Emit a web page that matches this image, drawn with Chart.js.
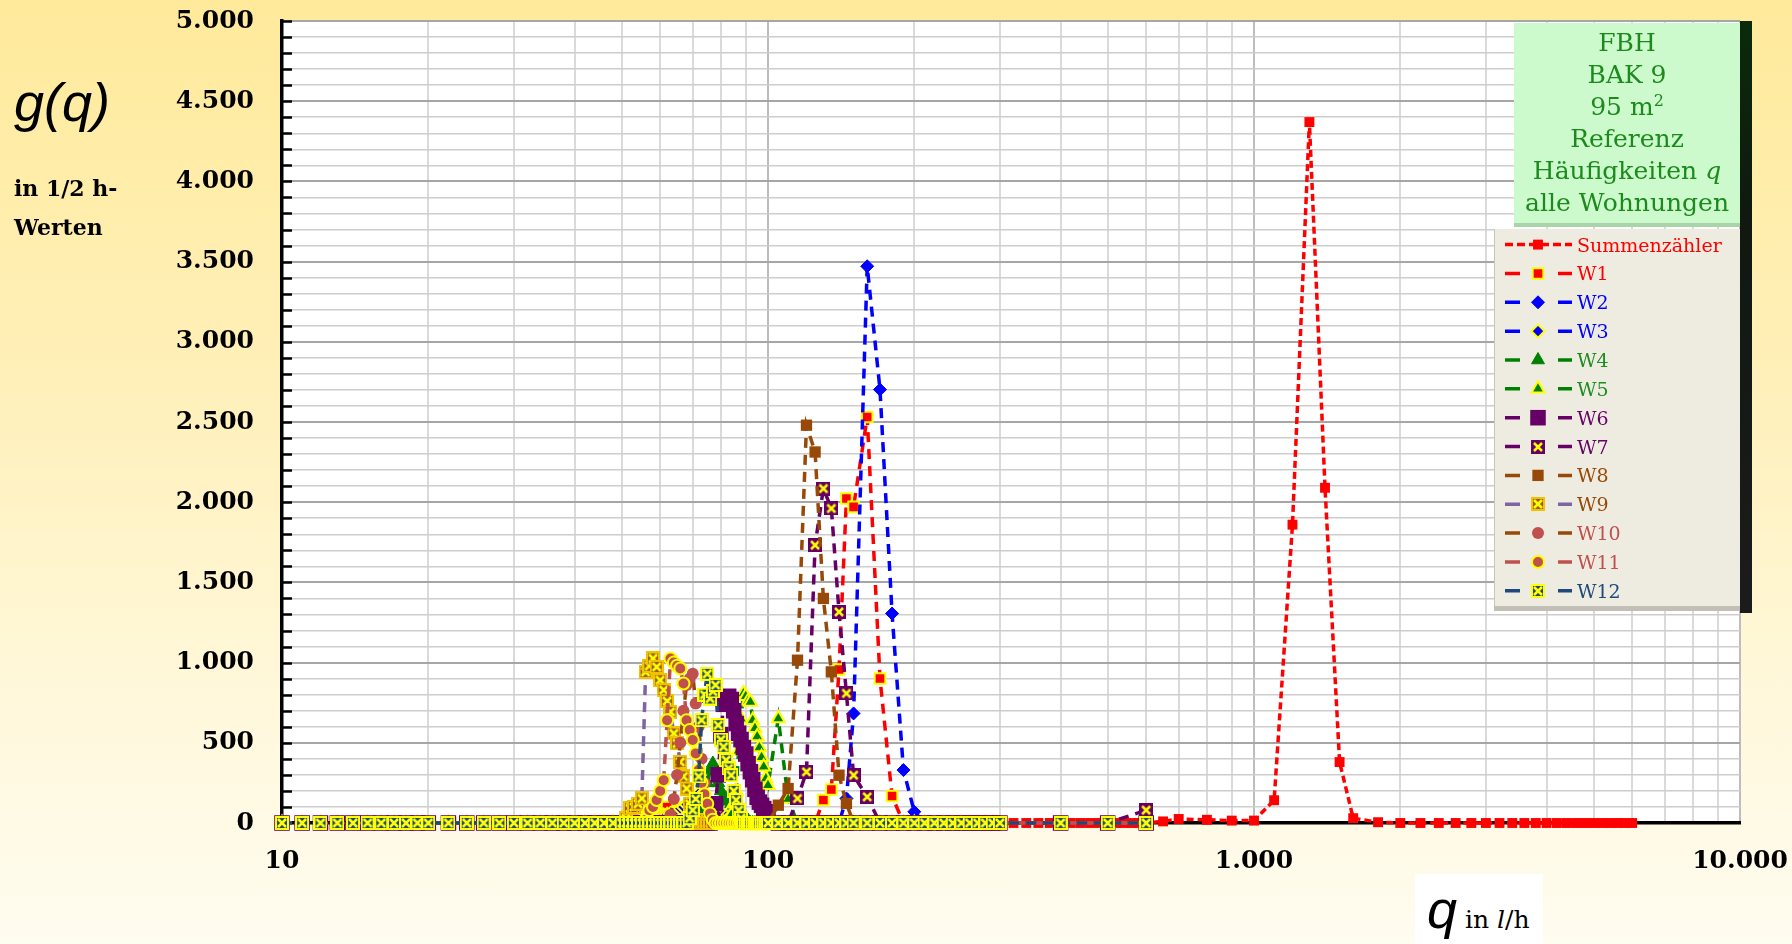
<!DOCTYPE html>
<html lang="de">
<head>
<meta charset="utf-8">
<title>g(q) – Häufigkeiten q, alle Wohnungen</title>
<script src="https://cdn.jsdelivr.net/npm/chart.js@4.4.1/dist/chart.umd.min.js"></script>
<style>
  html, body { margin: 0; padding: 0; }
  #wrap { position: relative; width: 1792px; height: 944px; overflow: hidden;
    background: linear-gradient(180deg, #FFEA9B 0%, #FFF0B9 40%, #FFF8DC 75%, #FFFCF0 100%); }
  #chart { position: absolute; left: 0; top: 0; }
  .t { position: absolute; white-space: nowrap; color: #000; }
  #ytitle { left: 14px; top: 75px; font: italic 54px/54px 'Liberation Sans', Arial, sans-serif; }
  .ysub { left: 14px; font: bold 22px/22px 'DejaVu Serif', serif; }
  #xbox { position: absolute; left: 1415px; top: 874px; width: 128px; height: 70px; background: #fff; }
  #xtitle { left: 1427px; top: 882px; font: italic 54px/54px 'Liberation Sans', Arial, sans-serif; }
  #xtitle span { font: 25px 'DejaVu Serif', serif; }
  #xtitle span i { font-style: italic; }
  #shadow { position: absolute; left: 1740px; top: 21px; width: 12px; height: 592px;
    background: linear-gradient(180deg, #0A2A0A 0%, #101810 35%, #1B1B1B 100%); }
  #titlebox { position: absolute; left: 1514px; top: 23px; width: 226px; height: 200px;
    background: #CCFACC; color: #1C8A1C; font: 25px/32px 'DejaVu Serif', serif; text-align: center;
    padding-top: 4px; box-sizing: border-box; box-shadow: 0 4px 0 #A9D3A9; }
  #titlebox sup { font-size: 16px; line-height: 0; vertical-align: 9px; }
  #legend { position: absolute; left: 1494px; top: 229px; width: 246px; height: 377px; background: #EEECE1;
    border-left: 1px solid #C8C6BC; box-sizing: border-box; box-shadow: 0 5px 0 #C2C0B6; }
  #legendMarks { position: absolute; left: 1494px; top: 229px; }
  .lt { position: absolute; left: 1577px; height: 28px; font: 19px/28px 'DejaVu Serif', serif; white-space: nowrap; }
</style>
</head>
<body>
<div id="wrap">
  <canvas id="chart" width="1792" height="944"></canvas>
  <div class="t" id="ytitle">g(q)</div>
  <div class="t ysub" style="top:177px">in 1/2 h-</div>
  <div class="t ysub" style="top:216px">Werten</div>
  <div id="xbox"></div>
  <div class="t" id="xtitle">q<span> in <i>l</i>/h</span></div>
  <div id="shadow"></div>
  <div id="titlebox">
    <div>FBH</div>
    <div>BAK 9</div>
    <div>95 m<sup>2</sup></div>
    <div>Referenz</div>
    <div>Häufigkeiten <i>q</i></div>
    <div>alle Wohnungen</div>
  </div>
  <div id="legend"></div>
  <canvas id="legendMarks" width="84" height="377"></canvas>
</div>
<script>
// ── Data ───────────────────────────────────────────────
const seriesNames = ['Summenzähler', 'W1', 'W2', 'W3', 'W4', 'W5', 'W6', 'W7', 'W8', 'W9', 'W10', 'W11', 'W12'];

// q bins of the flats (l/h)
const qW = [
  10, 11, 12, 13, 14, 15, 16, 17, 18, 19, 20, 22, 24, 26, 28, 30, 32, 34, 36, 38, 40, 42, 44, 46, 48,
  50, 51, 52, 53, 54, 55, 56, 57, 58, 59,
  60, 61, 62, 63, 64, 65, 66, 67, 68, 69,
  70, 71, 72, 73, 74, 75, 76, 77, 78, 79,
  80, 81, 82, 83, 84, 85, 86, 87, 88, 89,
  90, 91, 92, 93, 94, 95, 96, 97, 98, 99,
  100,
  105, 110, 115, 120, 125, 130, 135, 140, 145, 150,
  160, 170, 180, 190, 200, 210, 220, 230, 240, 250, 260, 270, 280, 290, 300,
  400, 500, 600
];

// q bins of the main meter (l/h)
const qSum = [
  300, 320, 340, 360, 380, 400, 420, 440, 460, 480, 500, 520, 540, 560, 580, 600,
  650, 700,
  800, 900, 1000, 1100, 1200, 1300, 1400, 1500, 1600,
  1800, 2000, 2200, 2400, 2600, 2800, 3000, 3200, 3400, 3600, 3800, 4000, 4200, 4400, 4600, 4800,
  5000, 5200, 5400, 5600, 5800, 6000
];

const sumVals = [
  0, 0, 0, 0, 0, 0, 0, 0, 0, 0, 0, 0, 0, 0, 0, 0,
  10, 25,
  20, 15, 15, 142, 1860, 4370, 2090, 380, 30,
  5, 0, 0, 0, 0, 0, 0, 0, 0, 0, 0, 0, 0, 0, 0, 0,
  0, 0, 0, 0, 0, 0
];

// rows: 10–48 | 50–59 | 60–69 | 70–79 | 80–89 | 90–99 | 100 | 105–150 | 160–300 | 400–600
const w1 = [
  0, 0, 0, 0, 0,  0, 0, 0, 0, 0,  0, 0, 0, 0, 0,  0, 0, 0, 0, 0,  0, 0, 0, 0, 0,
  0, 20, 40, 20, 0, 0, 0, 0, 0, 0,
  30, 60, 100, 40, 0, 0, 0, 0, 0, 0,
  0, 0, 0, 0, 0, 0, 0, 0, 0, 0,
  0, 0, 0, 0, 0, 0, 0, 0, 0, 0,
  0, 0, 0, 0, 0, 0, 0, 0, 0, 0,
  0,
  0, 0, 0, 0, 0, 143, 209, 957, 2023, 1971,
  2531, 901, 168, 0, 0, 0, 0, 0, 0, 0, 0, 0, 0, 0, 0,
  0, 0, 0
];
const w2 = [
  0, 0, 0, 0, 0,  0, 0, 0, 0, 0,  0, 0, 0, 0, 0,  0, 0, 0, 0, 0,  0, 0, 0, 0, 0,
  0, 0, 0, 0, 0, 0, 0, 0, 0, 0,
  0, 0, 0, 0, 0, 0, 0, 0, 0, 0,
  0, 0, 0, 0, 0, 0, 0, 0, 0, 0,
  0, 0, 0, 0, 0, 0, 0, 0, 0, 0,
  0, 0, 0, 0, 0, 0, 0, 0, 0, 0,
  0,
  0, 0, 0, 0, 0, 0, 0, 0, 153, 683,
  3471, 2702, 1306, 330, 70, 0, 0, 0, 0, 0, 0, 0, 0, 0, 0,
  0, 0, 0
];
const w3 = [
  0, 0, 0, 0, 0,  0, 0, 0, 0, 0,  0, 0, 0, 0, 0,  0, 0, 0, 0, 0,  0, 5, 5, 10, 10,
  15, 15, 20, 20, 25, 25, 30, 30, 35, 40,
  45, 50, 55, 60, 70, 80, 90, 100, 115, 130,
  150, 165, 185, 175, 160, 140, 120, 105, 90, 75,
  60, 50, 40, 30, 20, 15, 10, 5, 0, 0,
  0, 0, 0, 0, 0, 0, 0, 0, 0, 0,
  0,
  0, 0, 0, 0, 0, 0, 0, 0, 0, 0,
  0, 0, 0, 0, 0, 0, 0, 0, 0, 0, 0, 0, 0, 0, 0,
  0, 0, 0
];
const w4 = [
  0, 0, 0, 0, 0,  0, 0, 0, 0, 0,  0, 0, 0, 0, 0,  0, 0, 0, 0, 0,  0, 0, 0, 0, 0,
  0, 0, 0, 0, 0, 0, 0, 0, 0, 0,
  0, 0, 0, 0, 0, 0, 0, 0, 0, 0,
  0, 0, 0, 40, 100, 250, 330, 371, 330, 250,
  200, 170, 150, 135, 120, 110, 100, 80, 60, 45,
  30, 15, 0, 0, 0, 0, 0, 0, 0, 0,
  0,
  0, 0, 0, 0, 0, 0, 0, 0, 0, 0,
  0, 0, 0, 0, 0, 0, 0, 0, 0, 0, 0, 0, 0, 0, 0,
  0, 0, 0
];
const w5 = [
  0, 0, 0, 0, 0,  0, 0, 0, 0, 0,  0, 0, 0, 0, 0,  0, 0, 0, 0, 0,  0, 0, 0, 0, 0,
  0, 0, 0, 0, 0, 0, 0, 0, 0, 0,
  0, 0, 0, 0, 0, 0, 0, 0, 0, 0,
  0, 0, 0, 0, 0, 0, 0, 0, 0, 0,
  0, 0, 0, 20, 50, 120, 200, 450, 650, 807,
  790, 760, 755, 641, 590, 540, 470, 410, 350, 278,
  236,
  652, 150, 0, 0, 0, 0, 0, 0, 0, 0,
  0, 0, 0, 0, 0, 0, 0, 0, 0, 0, 0, 0, 0, 0, 0,
  0, 0, 0
];
const w6 = [
  0, 0, 0, 0, 0,  0, 0, 0, 0, 0,  0, 0, 0, 0, 0,  0, 0, 0, 0, 0,  0, 0, 0, 0, 0,
  0, 0, 0, 0, 0, 0, 0, 0, 0, 0,
  0, 0, 0, 0, 0, 0, 0, 0, 0, 0,
  0, 0, 0, 0, 0, 0, 0, 20, 120, 300,
  550, 740, 780, 790, 770, 700, 620, 560, 520, 470,
  430, 370, 320, 270, 210, 160, 130, 110, 90, 70,
  40,
  0, 0, 0, 0, 0, 0, 0, 0, 0, 0,
  0, 0, 0, 0, 0, 0, 0, 0, 0, 0, 0, 0, 0, 0, 0,
  0, 0, 0
];
const w7 = [
  0, 0, 0, 0, 0,  0, 0, 0, 0, 0,  0, 0, 0, 0, 0,  0, 0, 0, 0, 0,  0, 0, 0, 0, 0,
  0, 0, 0, 0, 0, 0, 0, 0, 0, 0,
  0, 0, 0, 0, 0, 0, 0, 0, 0, 0,
  0, 0, 0, 0, 0, 0, 0, 0, 0, 0,
  0, 0, 0, 0, 0, 0, 0, 0, 0, 0,
  0, 0, 0, 0, 0, 0, 0, 0, 0, 0,
  0,
  0, 0, 153, 319, 1732, 2085, 1961, 1316, 808, 298,
  163, 0, 0, 0, 0, 0, 0, 0, 0, 0, 0, 0, 0, 0, 0,
  0, 0, 80
];
const w8 = [
  0, 0, 0, 0, 0,  0, 0, 0, 0, 0,  0, 0, 0, 0, 0,  0, 0, 0, 0, 0,  0, 0, 0, 0, 0,
  0, 0, 0, 0, 0, 0, 0, 0, 0, 0,
  0, 0, 0, 0, 0, 0, 0, 0, 0, 0,
  0, 0, 0, 0, 0, 0, 0, 0, 0, 0,
  0, 0, 0, 0, 0, 0, 0, 0, 0, 0,
  0, 0, 0, 0, 0, 0, 0, 0, 0, 0,
  0,
  111, 215, 1015, 2480, 2313, 1400, 942, 298, 122, 0,
  0, 0, 0, 0, 0, 0, 0, 0, 0, 0, 0, 0, 0, 0, 0,
  0, 0, 0
];
const w9 = [
  0, 0, 0, 0, 0,  0, 0, 0, 0, 0,  0, 0, 0, 0, 0,  0, 0, 0, 0, 0,  0, 0, 0, 0, 0,
  0, 30, 91, 100, 120, 153, 942, 980, 1026, 973,
  890, 829, 760, 693, 558, 496, 381, 290, 215, 120,
  60, 20, 0, 0, 0, 0, 0, 0, 0, 0,
  0, 0, 0, 0, 0, 0, 0, 0, 0, 0,
  0, 0, 0, 0, 0, 0, 0, 0, 0, 0,
  0,
  0, 0, 0, 0, 0, 0, 0, 0, 0, 0,
  0, 0, 0, 0, 0, 0, 0, 0, 0, 0, 0, 0, 0, 0, 0,
  0, 0, 0
];
const w10 = [
  0, 0, 0, 0, 0,  0, 0, 0, 0, 0,  0, 0, 0, 0, 0,  0, 0, 0, 0, 0,  0, 0, 0, 0, 0,
  0, 0, 0, 0, 0, 0, 0, 0, 0, 0,
  0, 0, 0, 50, 150, 300, 500, 700, 860, 900,
  930, 745, 600, 400, 250, 120, 50, 0, 0, 0,
  0, 0, 0, 0, 0, 0, 0, 0, 0, 0,
  0, 0, 0, 0, 0, 0, 0, 0, 0, 0,
  0,
  0, 0, 0, 0, 0, 0, 0, 0, 0, 0,
  0, 0, 0, 0, 0, 0, 0, 0, 0, 0, 0, 0, 0, 0, 0,
  0, 0, 0
];
const w11 = [
  0, 0, 0, 0, 0,  0, 0, 0, 0, 0,  0, 0, 0, 0, 0,  0, 0, 0, 0, 0,  0, 0, 0, 0, 0,
  0, 0, 0, 0, 0, 0, 20, 80, 100, 143,
  200, 267, 641, 1026, 1000, 980, 963, 870, 641, 580,
  517, 434, 330, 250, 180, 120, 60, 20, 0, 0,
  0, 0, 0, 0, 0, 0, 0, 0, 0, 0,
  0, 0, 0, 0, 0, 0, 0, 0, 0, 0,
  0,
  0, 0, 0, 0, 0, 0, 0, 0, 0, 0,
  0, 0, 0, 0, 0, 0, 0, 0, 0, 0, 0, 0, 0, 0, 0,
  0, 0, 0
];
const w12 = [
  0, 0, 0, 0, 0,  0, 0, 0, 0, 0,  0, 0, 0, 0, 0,  0, 0, 0, 0, 0,  0, 0, 0, 0, 0,
  0, 0, 0, 0, 0, 0, 0, 0, 0, 0,
  0, 0, 0, 0, 0, 0, 0, 0, 0, 30,
  80, 150, 290, 641, 800, 930, 776, 820, 860, 610,
  520, 475, 392, 340, 298, 200, 143, 80, 30, 0,
  0, 0, 0, 0, 0, 0, 0, 0, 0, 0,
  0,
  0, 0, 0, 0, 0, 0, 0, 0, 0, 0,
  0, 0, 0, 0, 0, 0, 0, 0, 0, 0, 0, 0, 0, 0, 0,
  0, 0, 0
];

const flats = [w1, w2, w3, w4, w5, w6, w7, w8, w9, w10, w11, w12];
flats.forEach((a, i) => {
  if (a.length !== qW.length) throw new Error(`W${i + 1}: ${a.length} values, expected ${qW.length}`);
});
if (sumVals.length !== qSum.length) throw new Error('Summenzähler length mismatch');

// ── Marker images ──────────────────────────────────────
function crossMark(size, fill, cross, ring) {
  const c = document.createElement('canvas');
  c.width = c.height = size;
  const g = c.getContext('2d');
  g.fillStyle = ring;
  g.fillRect(0, 0, size, size);
  g.fillStyle = fill;
  g.fillRect(2, 2, size - 4, size - 4);
  g.strokeStyle = cross;
  g.lineWidth = 2.5;
  g.beginPath();
  g.moveTo(3, 3); g.lineTo(size - 3, size - 3);
  g.moveTo(size - 3, 3); g.lineTo(3, size - 3);
  g.stroke();
  return c;
}

const LONG = [10, 7];
const styles = [
  { line: '#FF0000', dash: [7, 4], point: 'rect', r: 7, fill: '#FF0000', edge: '#FF0000', bw: 0, text: '#FF0000' },
  { line: '#FF0000', dash: LONG, point: 'rect', r: 7.5, fill: '#FF0000', edge: '#FFFF00', bw: 2, text: '#FF0000' },
  { line: '#0000FF', dash: LONG, point: 'rectRot', r: 6.5, fill: '#0000FF', edge: '#0000FF', bw: 1, text: '#0000FF' },
  { line: '#0000FF', dash: LONG, point: 'rectRot', r: 6.5, fill: '#0000FF', edge: '#FFFF00', bw: 2, text: '#0000FF' },
  { line: '#008000', dash: LONG, point: 'triangle', r: 7.5, fill: '#008000', edge: '#008000', bw: 1, text: '#1E8C1E' },
  { line: '#008000', dash: LONG, point: 'triangle', r: 7.5, fill: '#008000', edge: '#FFFF00', bw: 2, text: '#1E8C1E' },
  { line: '#660066', dash: LONG, point: 'rect', r: 11, fill: '#660066', edge: '#660066', bw: 0, text: '#660066' },
  { line: '#660066', dash: LONG, point: crossMark(14, '#660066', '#FFFF00', '#660066'), r: 6, text: '#660066' },
  { line: '#984807', dash: LONG, point: 'rect', r: 8, fill: '#984807', edge: '#984807', bw: 0, text: '#984807' },
  { line: '#8064A2', dash: LONG, point: crossMark(14, '#9C5A1C', '#FFFF00', '#F2C200'), r: 6, text: '#984807' },
  { line: '#984807', dash: LONG, point: 'circle', r: 6, fill: '#C0504D', edge: '#C0504D', bw: 0, text: '#C0504D' },
  { line: '#C0504D', dash: LONG, point: 'circle', r: 6, fill: '#C0504D', edge: '#FFFF00', bw: 2, text: '#C0504D' },
  { line: '#1F497D', dash: LONG, point: crossMark(14, '#1F497D', '#FFFF00', '#FFFF00'), r: 6, text: '#1F497D' },
];

// ── Helpers ────────────────────────────────────────────
function de(v) {
  return String(v).replace(/\B(?=(\d{3})+(?!\d))/g, '.');
}
function isDecade(v) {
  const e = Math.log10(v);
  return Math.abs(e - Math.round(e)) < 1e-9;
}
// keep tick label padding from pushing the plot area inwards
function noPad(s) {
  s.paddingTop = 0; s.paddingBottom = 0; s.paddingLeft = 0; s.paddingRight = 0;
}

const datasets = seriesNames.map((name, i) => {
  const s = styles[i];
  const q = i === 0 ? qSum : qW;
  const vals = i === 0 ? sumVals : flats[i - 1];
  return {
    label: name,
    data: q.map((x, k) => ({ x, y: vals[k] })),
    borderColor: s.line,
    borderWidth: 3.5,
    borderDash: s.dash,
    borderCapStyle: 'butt',
    tension: 0,
    fill: false,
    clip: false,
    pointStyle: s.point,
    pointRadius: s.r,
    pointBackgroundColor: s.fill || s.line,
    pointBorderColor: s.edge || s.line,
    pointBorderWidth: s.bw || 0,
    order: seriesNames.length - i,
  };
});

// ── Plugins ────────────────────────────────────────────
const plotBg = {
  id: 'plotBg',
  beforeDraw(chart) {
    const { ctx, chartArea: a } = chart;
    ctx.save();
    ctx.fillStyle = '#FFFFFF';
    ctx.fillRect(a.left, a.top, a.right - a.left, a.bottom - a.top);
    ctx.restore();
  }
};

const innerTicks = {
  id: 'innerTicks',
  beforeDatasetsDraw(chart) {
    const { ctx, chartArea: a, scales: { y } } = chart;
    ctx.save();
    ctx.strokeStyle = '#000';
    ctx.lineWidth = 2.5;
    y.ticks.forEach(t => {
      const py = Math.round(y.getPixelForValue(t.value)) + 0.5;
      ctx.beginPath();
      ctx.moveTo(a.left, py);
      ctx.lineTo(a.left + 10, py);
      ctx.stroke();
    });
    ctx.restore();
  }
};

const tickFont = { family: "'DejaVu Serif', serif", size: 25, weight: 'bold' };

new Chart(document.getElementById('chart'), {
  type: 'line',
  data: { datasets },
  options: {
    responsive: false,
    animation: false,
    devicePixelRatio: 1,
    events: [],
    layout: { padding: { left: 0, right: 52, top: 21, bottom: 0 } },
    plugins: { legend: { display: false }, tooltip: { enabled: false } },
    scales: {
      x: {
        type: 'logarithmic',
        min: 10,
        max: 10000,
        afterFit: s => { s.height = 121; noPad(s); },
        afterBuildTicks: s => {
          s.ticks = s.ticks.filter(t => {
            const m = t.value / Math.pow(10, Math.floor(Math.log10(t.value) + 1e-9));
            return Math.abs(m - 1.5) > 1e-6;
          });
        },
        grid: {
          drawTicks: false,
          color: c => isDecade(c.tick.value) ? '#BDBDBD' : '#DADADA',
          lineWidth: 2,
        },
        border: { display: true, color: '#000', width: 3.5 },
        ticks: {
          autoSkip: false,
          maxRotation: 0,
          padding: 23,
          color: '#000',
          font: tickFont,
          callback: v => isDecade(v) ? de(v) : '',
        },
      },
      y: {
        min: 0,
        max: 5000,
        afterFit: s => { s.width = 282; noPad(s); },
        grid: {
          drawTicks: false,
          color: c => c.tick.value % 500 === 0 ? '#A6A6A6' : '#CDCDCD',
          lineWidth: c => c.tick.value % 500 === 0 ? 2 : 1.5,
        },
        border: { display: true, color: '#000', width: 3.5 },
        ticks: {
          stepSize: 100,
          autoSkip: false,
          padding: 28,
          color: '#000',
          font: tickFont,
          callback: v => v % 500 === 0 ? de(v) : '',
        },
      },
    },
  },
  plugins: [plotBg, innerTicks],
});

// ── Legend ─────────────────────────────────────────────
const wrap = document.getElementById('wrap');
const lg = document.getElementById('legendMarks').getContext('2d');
const ROW0 = 244.6, ROW_H = 28.85, BOX_TOP = 229;

function drawMarker(g, s, x, y) {
  if (s.point instanceof HTMLCanvasElement) {
    g.drawImage(s.point, Math.round(x - s.point.width / 2), Math.round(y - s.point.height / 2));
    return;
  }
  const r = s.r;
  g.fillStyle = s.fill;
  g.strokeStyle = s.edge;
  g.lineWidth = s.bw;
  g.beginPath();
  if (s.point === 'rect') {
    const h = r * Math.SQRT1_2;
    g.rect(x - h, y - h, 2 * h, 2 * h);
  } else if (s.point === 'rectRot') {
    g.moveTo(x - r, y); g.lineTo(x, y - r); g.lineTo(x + r, y); g.lineTo(x, y + r); g.closePath();
  } else if (s.point === 'triangle') {
    for (let k = 0; k < 3; k++) {
      const a = k * 2 * Math.PI / 3;
      const px = x + Math.sin(a) * r, py = y - Math.cos(a) * r;
      k ? g.lineTo(px, py) : g.moveTo(px, py);
    }
    g.closePath();
  } else {
    g.arc(x, y, r, 0, 2 * Math.PI);
  }
  g.fill();
  if (s.bw) g.stroke();
}

seriesNames.forEach((name, i) => {
  const s = styles[i];
  const cy = ROW0 + i * ROW_H;
  const y = cy - BOX_TOP;
  lg.save();
  lg.strokeStyle = s.line;
  lg.lineWidth = 3.5;
  lg.beginPath();
  if (i === 0) {
    lg.setLineDash([8, 4]);
    lg.moveTo(11, y); lg.lineTo(78, y);
  } else {
    lg.moveTo(11, y); lg.lineTo(26, y);
    lg.moveTo(64, y); lg.lineTo(78, y);
  }
  lg.stroke();
  lg.restore();
  drawMarker(lg, s, 44, y);

  const el = document.createElement('div');
  el.className = 'lt';
  el.style.top = (cy - 14) + 'px';
  el.style.color = s.text;
  el.textContent = name;
  wrap.appendChild(el);
});
</script>
</body>
</html>
